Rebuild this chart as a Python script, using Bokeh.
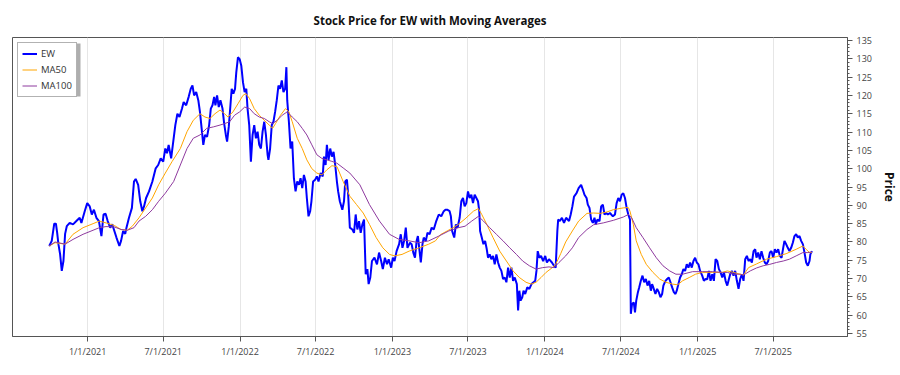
import numpy as np
from bokeh.plotting import figure
from bokeh.models import Range1d, FixedTicker, SingleIntervalTicker, Legend, BoxAnnotation
from bokeh.embed import file_html
from bokeh.resources import INLINE

START = "2020-10-01"
TITLE = "Stock Price for EW with Moving Averages"

ew_days = [0, 6, 12, 16, 19, 22, 26, 30, 34, 38, 42, 49, 57, 65, 73, 77, 85, 91, 97, 102,
           107, 113, 119, 125, 130, 135, 140, 146, 151, 156, 161, 168, 172, 177, 182, 185, 191, 198, 203, 207,
           213, 218, 223, 227, 232, 239, 247, 255, 261, 267, 273, 278, 282, 286, 292, 298, 302, 307, 312, 318,
           322, 328, 334, 339, 343, 347, 352, 357, 361, 365, 369, 373, 378, 383, 387, 391, 395, 398, 402, 406,
           410, 415, 419, 423, 426, 430, 434, 437, 441, 445, 448, 452, 456, 460, 464, 468, 472, 475, 479, 483,
           487, 491, 495, 499, 503, 507, 511, 515, 519, 523, 525, 529, 533, 537, 541, 545, 549, 553, 557, 561,
           565, 568, 570, 574, 578, 582, 586, 590, 594, 598, 602, 606, 610, 614, 617, 621, 625, 628, 632, 637,
           641, 645, 650, 655, 658, 662, 665, 669, 673, 677, 681, 685, 689, 692, 696, 702, 706, 709, 713, 716,
           720, 726, 730, 734, 738, 742, 746, 750, 754, 758, 762, 765, 769, 773, 779, 785, 790, 795, 799, 804,
           809, 813, 819, 823, 827, 832, 838, 842, 846, 850, 854, 858, 864, 868, 872, 876, 880, 883, 887, 890,
           894, 897, 902, 906, 911, 916, 921, 927, 933, 939, 945, 949, 953, 959, 962, 965, 970, 974, 978, 983,
           987, 991, 995, 999, 1003, 1007, 1011, 1015, 1019, 1023, 1027, 1030, 1032, 1036, 1040, 1044, 1048, 1051, 1055, 1059,
           1063, 1067, 1071, 1075, 1079, 1083, 1087, 1091, 1095, 1099, 1103, 1107, 1111, 1115, 1120, 1123, 1126, 1129, 1133, 1136,
           1140, 1145, 1150, 1155, 1160, 1164, 1167, 1170, 1174, 1178, 1183, 1188, 1192, 1197, 1204, 1209, 1213, 1217, 1219, 1223,
           1228, 1233, 1238, 1245, 1249, 1253, 1257, 1263, 1268, 1274, 1278, 1282, 1287, 1290, 1294, 1298, 1302, 1306, 1309, 1313,
           1318, 1322, 1326, 1330, 1334, 1338, 1343, 1350, 1355, 1359, 1363, 1367, 1371, 1375, 1379, 1383, 1387, 1391, 1393, 1396,
           1400, 1403, 1406, 1410, 1413, 1417, 1421, 1425, 1429, 1433, 1437, 1441, 1444, 1448, 1452, 1456, 1460, 1464, 1468, 1471,
           1476, 1480, 1484, 1488, 1492, 1496, 1500, 1503, 1507, 1511, 1515, 1519, 1523, 1527, 1531, 1535, 1539, 1543, 1547, 1551,
           1555, 1559, 1564, 1568, 1572, 1576, 1580, 1584, 1588, 1592, 1596, 1600, 1604, 1608, 1612, 1616, 1620, 1624, 1628, 1631,
           1635, 1639, 1643, 1647, 1651, 1655, 1659, 1663, 1667, 1671, 1675, 1679, 1683, 1687, 1691, 1694, 1698, 1702, 1706, 1710,
           1714, 1718, 1722, 1726, 1730, 1734, 1738, 1742, 1746, 1750, 1754, 1758, 1761, 1765, 1769, 1773, 1777, 1781, 1785, 1789,
           1793, 1797, 1801, 1805, 1809, 1813, 1817, 1821, 1823, 1827]

ew_close = [78.9, 80.3, 85.0, 85.0, 82.5, 79.4, 76.7, 72.1, 74.8, 82.2, 84.3, 85.2, 84.8, 85.7, 86.6, 85.2, 88.4, 90.6, 89.7, 87.5,
            88.8, 86.6, 85.7, 81.6, 87.5, 87.7, 85.7, 83.9, 84.8, 83.0, 81.2, 78.9, 80.3, 83.0, 82.2, 83.9, 86.6, 89.3, 96.5, 97.2,
            95.6, 91.1, 88.4, 89.7, 92.0, 93.8, 96.5, 100.1, 101.0, 102.8, 101.9, 105.5, 104.2, 106.5, 102.8, 108.3, 111.9, 115.0, 114.1, 116.4,
            118.2, 117.3, 119.6, 121.8, 122.7, 120.0, 120.9, 118.7, 115.5, 111.0, 106.5, 109.2, 108.7, 111.9, 116.4, 117.3, 119.6, 117.3, 120.0, 116.8,
            118.7, 116.4, 112.3, 109.2, 107.4, 111.4, 117.3, 121.8, 120.5, 121.8, 126.3, 130.4, 129.9, 128.1, 123.6, 120.9, 121.8, 116.4, 111.9, 101.9,
            109.2, 111.9, 108.3, 110.1, 106.5, 105.5, 110.1, 112.8, 109.2, 103.8, 102.4, 105.5, 111.9, 112.8, 115.5, 118.7, 122.7, 121.8, 124.1, 120.9,
            121.8, 127.7, 118.7, 112.8, 105.5, 107.4, 97.4, 93.8, 96.5, 95.6, 97.4, 94.7, 98.3, 96.5, 92.0, 87.0, 88.4, 91.1, 96.5, 97.0,
            97.9, 96.5, 98.8, 97.9, 103.3, 101.0, 106.5, 102.4, 105.5, 103.3, 104.6, 101.0, 96.5, 93.8, 91.1, 88.8, 91.1, 96.5, 97.0, 92.9,
            83.9, 83.4, 82.5, 87.5, 83.4, 85.7, 82.5, 84.8, 86.1, 71.2, 72.6, 68.5, 70.3, 74.8, 75.7, 73.9, 77.1, 74.8, 72.6, 75.7,
            73.9, 75.3, 73.0, 75.7, 74.8, 77.5, 79.4, 82.1, 78.4, 80.3, 83.9, 78.4, 79.8, 79.4, 77.1, 75.7, 80.3, 81.6, 77.5, 74.4,
            79.4, 81.2, 80.3, 82.5, 82.1, 83.9, 83.4, 85.7, 87.5, 87.0, 88.4, 88.8, 88.8, 88.4, 87.0, 83.0, 81.2, 84.8, 83.9, 86.6,
            91.1, 92.0, 89.7, 90.6, 93.8, 92.0, 92.9, 90.6, 92.9, 92.0, 91.1, 88.4, 83.0, 81.2, 79.4, 80.3, 78.0, 75.7, 76.6, 75.3,
            76.2, 73.9, 76.6, 74.4, 73.0, 72.1, 69.9, 70.3, 69.0, 73.0, 70.3, 73.0, 69.4, 70.3, 68.5, 61.3, 66.7, 64.0, 64.9, 66.7,
            65.8, 67.6, 67.2, 68.5, 69.0, 69.4, 72.1, 77.5, 75.7, 76.2, 74.8, 76.2, 74.4, 75.3, 74.4, 73.5, 73.0, 83.0, 86.1, 85.7,
            86.6, 85.2, 86.6, 85.7, 87.5, 89.7, 92.4, 93.3, 94.7, 95.6, 94.3, 92.9, 92.0, 90.2, 89.3, 86.1, 85.2, 86.6, 84.8, 86.1,
            85.7, 89.7, 90.2, 87.5, 87.9, 87.5, 87.9, 87.0, 87.5, 90.6, 92.0, 91.1, 92.9, 93.3, 92.0, 89.3, 87.5, 86.1, 60.4, 63.1,
            63.5, 60.8, 64.0, 66.3, 67.6, 69.4, 70.8, 69.0, 69.9, 68.1, 69.4, 66.7, 68.5, 67.2, 65.8, 67.2, 66.3, 64.9, 65.8, 68.1,
            69.4, 69.9, 70.3, 69.0, 67.6, 66.3, 65.8, 66.7, 68.5, 70.3, 71.2, 72.6, 72.1, 73.9, 73.0, 74.4, 73.0, 74.8, 75.7, 74.4,
            73.9, 72.1, 70.8, 69.4, 69.9, 69.8, 72.1, 69.4, 71.2, 69.4, 75.3, 74.8, 72.6, 71.7, 70.3, 71.7, 69.4, 68.1, 69.9, 71.2,
            72.1, 70.8, 72.1, 69.4, 67.2, 69.9, 71.2, 69.4, 75.3, 76.2, 74.8, 75.3, 74.4, 77.5, 78.0, 75.7, 77.1, 75.3, 77.5, 75.7,
            74.4, 73.9, 74.8, 77.1, 77.5, 75.7, 78.0, 77.1, 78.0, 76.2, 75.7, 78.4, 80.3, 79.4, 78.4, 77.5, 78.4, 79.8, 81.6, 82.1,
            81.2, 81.6, 80.3, 79.4, 77.1, 74.4, 73.5, 74.8, 76.6, 77.5]

ma50_days = [0, 14, 38, 57, 81, 105, 120, 136, 156, 172, 187, 199, 215, 231, 247, 262, 278, 294, 314, 330,
             345, 361, 373, 385, 397, 409, 420, 428, 440, 452, 464, 471, 480, 491, 503, 515, 527, 535, 542, 554,
             566, 574, 582, 594, 606, 617, 629, 641, 653, 665, 677, 689, 704, 720, 736, 752, 767, 783, 799, 815,
             827, 845, 862, 886, 909, 925, 937, 953, 969, 980, 996, 1016, 1028, 1036, 1048, 1063, 1079, 1095, 1111, 1126,
             1142, 1154, 1166, 1178, 1190, 1205, 1213, 1225, 1237, 1253, 1268, 1288, 1304, 1320, 1336, 1351, 1375, 1387, 1391, 1399,
             1406, 1418, 1430, 1446, 1462, 1477, 1493, 1505, 1517, 1533, 1548, 1564, 1588, 1612, 1624, 1639, 1655, 1663, 1675, 1694,
             1718, 1742, 1765, 1789, 1805, 1813, 1821, 1827]
ma50_vals = [78.9, 79.8, 79.4, 82.1, 83.9, 85.0, 85.7, 85.2, 84.5, 83.4, 83.2, 84.3, 86.6, 89.3, 92.0, 95.6, 98.8, 101.9, 105.5, 110.1,
             113.2, 115.0, 114.1, 113.7, 115.0, 116.0, 115.0, 114.1, 115.5, 117.7, 120.0, 120.5, 119.1, 116.4, 114.6, 113.2, 111.9, 111.0, 112.3, 114.6,
             116.4, 115.5, 112.8, 108.3, 105.5, 102.4, 100.0, 98.8, 98.3, 99.7, 100.8, 100.6, 96.5, 92.5, 90.2, 87.9, 84.8, 81.2, 78.4, 76.6,
             76.2, 76.6, 77.5, 78.4, 79.4, 80.3, 82.0, 83.0, 84.0, 84.8, 86.3, 88.4, 89.1, 87.5, 84.8, 81.2, 77.5, 74.8, 72.1, 70.3,
             69.0, 68.5, 69.0, 70.3, 71.7, 73.0, 73.9, 76.8, 80.0, 83.0, 85.7, 87.8, 87.9, 87.8, 88.2, 88.8, 89.3, 89.4, 88.4, 84.8,
             80.3, 76.6, 73.9, 71.7, 69.9, 69.0, 68.5, 68.3, 69.4, 70.3, 71.2, 71.7, 71.7, 71.7, 72.1, 71.7, 71.2, 71.0, 73.0, 74.0,
             75.3, 76.0, 76.8, 78.0, 78.9, 78.0, 77.1, 77.1]

ma100_days = [0, 14, 38, 57, 81, 105, 120, 136, 156, 172, 187, 203, 215, 231, 247, 262, 278, 298, 314, 330,
              345, 361, 377, 393, 409, 420, 432, 444, 456, 468, 480, 491, 503, 515, 527, 535, 546, 558, 570, 582,
              594, 606, 617, 629, 641, 653, 665, 677, 689, 704, 720, 744, 767, 791, 815, 838, 862, 886, 909, 933,
              957, 980, 996, 1012, 1028, 1040, 1055, 1071, 1087, 1103, 1119, 1134, 1150, 1166, 1182, 1197, 1209, 1221, 1237, 1253,
              1268, 1288, 1304, 1327, 1351, 1375, 1387, 1395, 1406, 1422, 1438, 1454, 1470, 1486, 1501, 1517, 1541, 1564, 1588, 1612,
              1624, 1639, 1655, 1663, 1679, 1694, 1710, 1726, 1742, 1758, 1773, 1789, 1805, 1817, 1827]
ma100_vals = [78.9, 80.0, 79.4, 80.7, 82.1, 83.2, 83.9, 84.2, 84.1, 83.4, 83.2, 83.9, 85.7, 87.0, 88.8, 91.1, 93.3, 96.5, 101.0, 105.5,
              108.3, 109.2, 111.0, 111.4, 111.9, 112.3, 112.8, 114.6, 115.5, 116.8, 116.4, 115.0, 114.1, 113.7, 112.8, 112.3, 113.2, 114.6, 115.5, 114.1,
              112.8, 111.0, 109.2, 106.5, 103.8, 102.8, 102.4, 102.0, 101.5, 100.2, 98.8, 95.6, 90.2, 85.7, 82.1, 80.7, 80.3, 79.8, 80.3, 81.6,
              83.0, 83.9, 84.3, 85.7, 87.0, 85.7, 83.9, 82.1, 80.3, 78.4, 76.6, 74.8, 73.5, 72.6, 73.0, 73.2, 73.0, 74.4, 76.2, 78.4,
              81.2, 83.4, 84.7, 85.2, 85.9, 86.8, 87.5, 86.6, 83.9, 81.2, 78.4, 75.7, 73.5, 72.1, 71.2, 71.2, 71.9, 71.9, 71.9, 71.7,
              71.7, 71.2, 71.2, 71.0, 72.1, 72.9, 73.5, 73.9, 74.4, 74.8, 75.3, 76.2, 77.1, 77.1, 77.3]

tick_dates = ["2021-01-01", "2021-07-01", "2022-01-01", "2022-07-01", "2023-01-01",
              "2023-07-01", "2024-01-01", "2024-07-01", "2025-01-01", "2025-07-01"]
tick_labels = ["1/1/2021", "7/1/2021", "1/1/2022", "7/1/2022", "1/1/2023",
               "7/1/2023", "1/1/2024", "7/1/2024", "1/1/2025", "7/1/2025"]

x_start, x_end = "2020-07-05", "2025-12-26"
y_low, y_high = 54.2, 135.8


def to_ms(days):
    d = np.datetime64(START, "D") + np.array(days, dtype="timedelta64[D]")
    return d.astype("datetime64[ms]").astype(np.int64).astype(float)


def date_ms(s):
    return float(np.datetime64(s, "ms").astype(np.int64))


FONT = "Open Sans"

p = figure(width=900, height=375, x_axis_type="datetime", y_axis_location="right",
           output_backend="svg", toolbar_location=None,
           x_range=Range1d(date_ms(x_start), date_ms(x_end)),
           y_range=Range1d(y_low, y_high),
           min_border_left=12, min_border_right=43, min_border_top=35, min_border_bottom=39,
           title=TITLE)

p.title.align = "center"
p.title.text_font = FONT
p.title.text_font_size = "11.5px"
p.title.text_font_style = "bold"
p.title.text_color = "#111111"
p.title.standoff = 20

p.background_fill_color = "white"
p.border_fill_color = "white"
p.outline_line_color = "#555555"
p.outline_line_width = 1

tick_ms = [date_ms(t) for t in tick_dates]
xt = FixedTicker(ticks=tick_ms)
p.xaxis.ticker = xt
p.xgrid.ticker = xt
p.xaxis.major_label_overrides = {t: lab for t, lab in zip(tick_ms, tick_labels)}
p.xaxis.minor_tick_line_color = None
p.xaxis.major_tick_in = 0
p.xaxis.major_tick_out = 5
p.xaxis.major_label_standoff = 3
p.xaxis.major_label_text_font = FONT
p.xaxis.major_label_text_font_size = "9px"
p.xaxis.major_label_text_color = "#444444"
p.xaxis.axis_line_color = "#555555"
p.xaxis.major_tick_line_color = "#555555"

yt = SingleIntervalTicker(interval=5, num_minor_ticks=5)
p.yaxis.ticker = yt
p.yaxis.major_tick_in = 0
p.yaxis.major_tick_out = 5
p.yaxis.minor_tick_in = 0
p.yaxis.minor_tick_out = 2
p.yaxis.major_label_standoff = 4
p.yaxis.major_label_text_font = FONT
p.yaxis.major_label_text_font_size = "9px"
p.yaxis.major_label_text_color = "#444444"
p.yaxis.axis_line_color = "#555555"
p.yaxis.major_tick_line_color = "#555555"
p.yaxis.minor_tick_line_color = "#555555"
p.yaxis.axis_label = "Price"
p.yaxis.axis_label_text_font = FONT
p.yaxis.axis_label_text_font_size = "12px"
p.yaxis.axis_label_text_font_style = "bold"
p.yaxis.axis_label_text_color = "#111111"
p.yaxis.axis_label_standoff = 6

p.xgrid.grid_line_color = "#e6e6e6"
p.ygrid.grid_line_color = None

r_ew = p.line(to_ms(ew_days), ew_close, line_color="#0000ff", line_width=2)
r_50 = p.line(to_ms(ma50_days), ma50_vals, line_color="#FFA500", line_width=1)
r_100 = p.line(to_ms(ma100_days), ma100_vals, line_color="#8E3A9E", line_width=1)

# drop shadow behind the legend box (canvas pixel units)
shadow = BoxAnnotation(left=20, right=80, top=43, bottom=96,
                       left_units="canvas", right_units="canvas",
                       top_units="canvas", bottom_units="canvas",
                       fill_color="#9a9a9a", fill_alpha=0.8, line_color=None)
p.add_layout(shadow)

legend = Legend(items=[("EW", [r_ew]), ("MA50", [r_50]), ("MA100", [r_100])],
                location="top_left", margin=5, padding=4, spacing=3,
                glyph_width=15, glyph_height=13, label_height=13, label_standoff=4,
                label_text_font=FONT, label_text_font_size="9.5px", label_text_color="#333333",
                border_line_color="#666666", border_line_width=1,
                background_fill_color="white", background_fill_alpha=1.0)
p.add_layout(legend)

open("out.html", "w").write(file_html(p, INLINE))
